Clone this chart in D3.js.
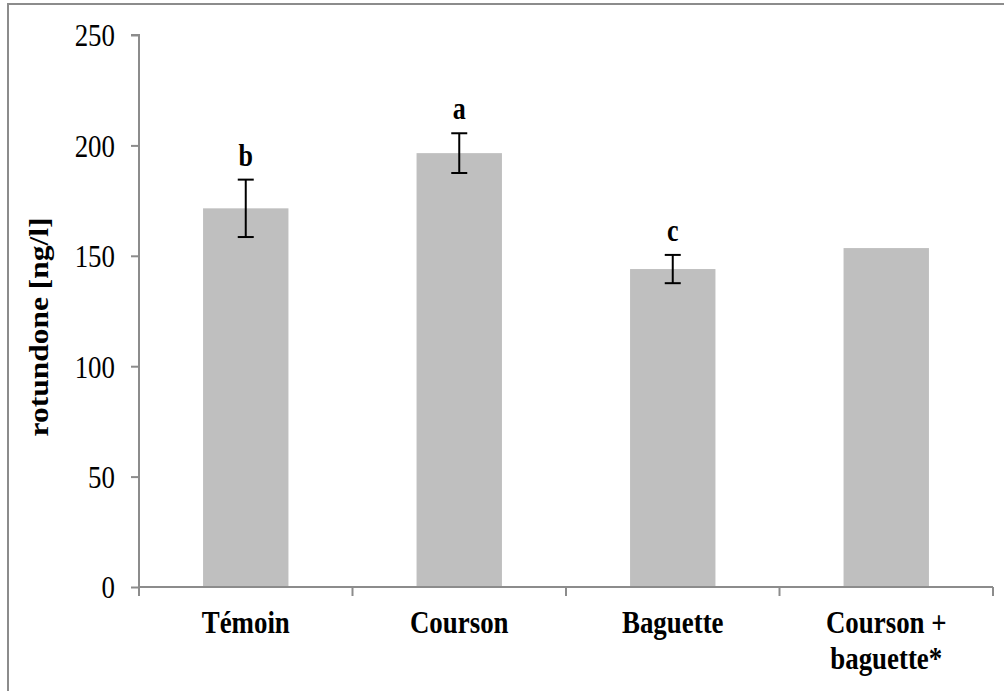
<!DOCTYPE html>
<html>
<head>
<meta charset="utf-8">
<script src="https://cdn.jsdelivr.net/npm/d3@7"></script>
<style>
  html, body { margin: 0; padding: 0; background: #fff; }
  svg { display: block; }
  text { font-family: "Liberation Serif", "Times New Roman", serif; fill: #000; }
</style>
</head>
<body>
<svg id="chart" width="1004" height="691"></svg>
<script>
// Rotundone concentration per treatment
const categories = ["Témoin", "Courson", "Baguette", "Courson + baguette*"];
const categoryLines = [["Témoin"], ["Courson"], ["Baguette"], ["Courson +", "baguette*"]];
const values = [171.5, 196.5, 144, 153.5];
const errors = [13, 9, 6.4, null];
const groupLetters = ["b", "a", "c", ""];
const yTicks = [0, 50, 100, 150, 200, 250];

const svg = d3.select("#chart");
const axisColor = "#8c8c8c";
const squeeze = 0.84; // narrow glyph width of the serif face

// outer frame
svg.append("rect")
  .attr("x", 8).attr("y", 4)
  .attr("width", 1010).attr("height", 700)
  .attr("fill", "none").attr("stroke", axisColor).attr("stroke-width", 2);

const plot = { left: 139, right: 993, top: 35, bottom: 587 };

const x = d3.scaleBand().domain(categories)
  .range([plot.left, plot.right]).paddingInner(0.6).paddingOuter(0.3);
const band = d3.scaleBand().domain(categories).range([plot.left, plot.right]);
const y = d3.scaleLinear().domain([0, 250]).range([plot.bottom, plot.top]);

// bars
svg.append("g").selectAll("rect")
  .data(categories)
  .join("rect")
  .attr("x", d => x(d))
  .attr("width", x.bandwidth())
  .attr("y", (d, i) => y(values[i]))
  .attr("height", (d, i) => y(0) - y(values[i]))
  .attr("fill", "#bfbfbf");

// y axis
const yAxis = svg.append("g")
  .attr("transform", `translate(${plot.left},0)`)
  .call(d3.axisLeft(y).tickValues(yTicks).tickSize(8).tickPadding(16));
yAxis.select(".domain").attr("stroke", axisColor).attr("stroke-width", 2)
  .attr("d", `M-8,${plot.top}H0V${plot.bottom + 9}`);
yAxis.selectAll(".tick line").attr("stroke", axisColor).attr("stroke-width", 2);
yAxis.selectAll(".tick text")
  .style("font-family", "'Liberation Serif', serif")
  .style("font-size", "32px")
  .attr("fill", "#000")
  .attr("x", 0)
  .attr("dy", "0.34em")
  .attr("transform", `translate(-24,0) scale(${squeeze},1)`);

// x axis: line with ticks at band boundaries
const xg = svg.append("g");
xg.append("line")
  .attr("x1", plot.left).attr("x2", plot.right)
  .attr("y1", y(0)).attr("y2", y(0))
  .attr("stroke", axisColor).attr("stroke-width", 2);
xg.selectAll("line.tick")
  .data(categories.slice(1).concat(["__end"]))
  .join("line")
  .attr("class", "tick")
  .attr("x1", d => d === "__end" ? plot.right : band(d))
  .attr("x2", d => d === "__end" ? plot.right : band(d))
  .attr("y1", y(0)).attr("y2", y(0) + 9)
  .attr("stroke", axisColor).attr("stroke-width", 2);

// category labels
xg.selectAll("g.cat")
  .data(categories)
  .join("g")
  .attr("class", "cat")
  .each(function(d, i) {
    const cx = x(d) + x.bandwidth() / 2;
    categoryLines[i].forEach((line, j) => {
      d3.select(this).append("text")
        .attr("transform", `translate(${cx},${633 + j * 36}) scale(${squeeze},1)`)
        .attr("text-anchor", "middle")
        .attr("font-weight", "bold")
        .attr("font-size", "32px")
        .text(line);
    });
  });

// error bars
const eb = svg.append("g").attr("stroke", "#000").attr("stroke-width", 2);
categories.forEach((c, i) => {
  if (errors[i] == null) return;
  const cx = x(c) + x.bandwidth() / 2;
  const yHi = y(values[i] + errors[i]);
  const yLo = y(values[i] - errors[i]);
  eb.append("line").attr("x1", cx).attr("x2", cx).attr("y1", yHi).attr("y2", yLo);
  eb.append("line").attr("x1", cx - 8).attr("x2", cx + 8).attr("y1", yHi).attr("y2", yHi);
  eb.append("line").attr("x1", cx - 8).attr("x2", cx + 8).attr("y1", yLo).attr("y2", yLo);
});

// significance letters
svg.append("g").selectAll("text")
  .data(categories)
  .join("text")
  .attr("transform", (d, i) =>
    `translate(${x(d) + x.bandwidth() / 2},${y(values[i] + (errors[i] || 0)) - 14}) scale(${squeeze},1)`)
  .attr("text-anchor", "middle")
  .attr("font-weight", "bold")
  .attr("font-size", "31px")
  .text((d, i) => groupLetters[i]);

// y axis title
svg.append("text")
  .attr("transform", `translate(48,327) scale(${squeeze},1) rotate(-90)`)
  .attr("text-anchor", "middle")
  .attr("font-weight", "bold")
  .attr("font-size", "31.5px")
  .text("rotundone [ng/l]");
</script>
</body>
</html>
